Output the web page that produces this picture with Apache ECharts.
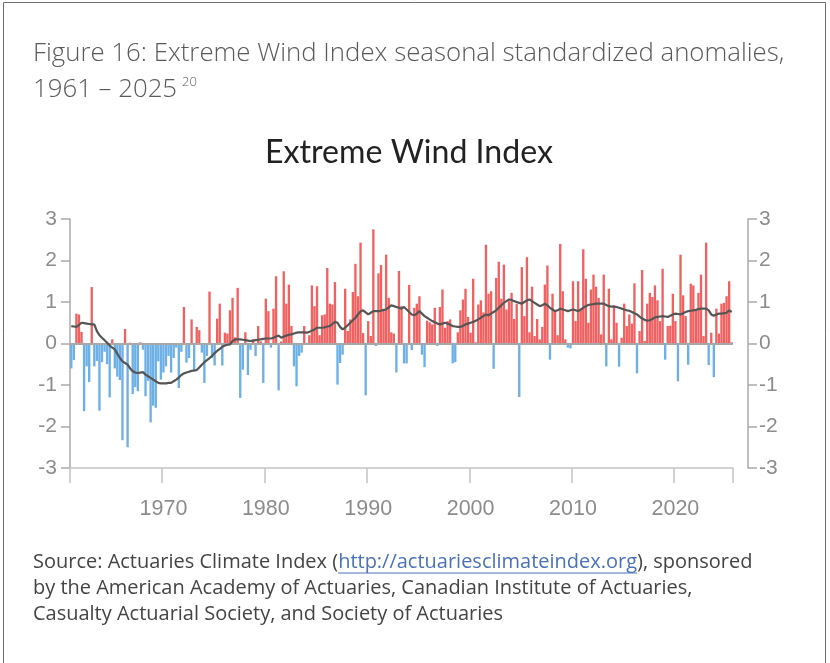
<!DOCTYPE html>
<html><head><meta charset="utf-8">
<script src="https://cdn.jsdelivr.net/npm/echarts@6/dist/echarts.min.js"></script>
<style>html,body{margin:0;padding:0;background:#fff}#c{width:830px;height:663px}</style>
</head><body><div id="c"></div>
<script>
// ---- data (seasonal standardized anomalies, Winter 1961 onward) ----
const startYear = 1961;
const seasonNames = ['Winter', 'Spring', 'Summer', 'Fall'];
const anomalies = [
 -0.6, -0.4, 0.72, 0.7, 0.28, -1.63, -0.55, -0.93, 1.36, -0.55,
 -0.42, -1.62, -0.45, -0.2, -0.5, -1.3, 0.1, -0.6, -0.8, -0.88,
 -2.33, 0.35, -2.5, 0.02, -1.22, -1.05, -1.15, 0.03, -0.15, -1.27,
 -0.9, -1.9, -1.5, -1.55, -0.43, -0.87, -0.7, -0.55, -0.3, -0.7,
 -0.35, -0.1, -1.07, -0.2, 0.88, -0.46, -0.35, 0.58, -0.67, 0.4,
 0.32, -0.22, -0.95, -0.3, 1.25, -0.35, -0.53, 0.6, 0.96, -0.53,
 0.26, 0.24, 0.8, 1.1, 0.15, 1.34, -1.31, -0.63, 0.27, -0.76,
 -0.15, 0.1, -0.3, 0.42, 0.05, -0.95, 1.08, 0.78, -0.1, 0.84,
 1.62, -1.13, 0.05, 1.74, 0.96, 1.42, 0.42, -0.55, -1.03, -0.3,
 -0.22, 0.42, -0.03, 0.2, 1.4, 0.9, 1.38, 0.2, 0.68, 0.7,
 1.82, 0.96, 0.94, 1.48, -0.99, -0.47, -0.27, 1.32, 0.3, 0.58,
 1.24, 1.92, 1.14, 2.43, 0.25, -1.25, 0.54, 0.18, 2.75, -0.06,
 1.69, 1.89, 0.82, 2.14, 1.1, 0.27, 0.24, -0.7, 1.75, 0.9,
 -0.48, -0.48, 1.41, -0.16, 0.86, 0.96, 1.14, -0.27, -0.57, 0.55,
 0.51, 0.46, 0.86, -0.06, 0.88, 1.3, 0.38, 0.54, 0.58, -0.48,
 -0.45, 0.27, 0.8, 1.06, 1.32, 0.64, 0.26, 1.56, 0.03, 0.94,
 1.04, 0.75, 2.38, 1.2, 1.26, -0.61, 1.58, 1.97, 1.08, 1.9,
 0.82, 1.02, 1.22, 0.59, 0.96, -1.29, 1.84, 0.66, 2.08, 0.27,
 1.37, 0.18, 0.59, 0.1, 0.4, 1.42, 1.88, -0.39, 1.2, 0.78,
 0.2, 2.4, 1.26, 0.1, -0.1, -0.12, 1.5, 0.54, 1.5, 0.82,
 2.27, 1.56, 0.5, 1.3, 1.66, 1.37, 1.1, 0.22, 1.66, -0.55,
 1.32, 0.1, 0.92, 0.5, -0.56, 0.14, 0.96, 0.42, 0.7, 0.48,
 1.45, -0.72, 0.3, 1.77, 0.06, 0.96, 1.22, 1.12, 1.4, 1.04,
 0.54, 1.8, -0.39, 0.42, 0.43, 1.2, 0.54, -0.91, 2.14, 1.16,
 0.66, -0.51, 1.44, 1.4, 0.82, 1.22, 1.66, 0.18, 2.43, -0.52,
 0.26, -0.81, 0.84, 0.24, 0.96, 0.98, 1.14, 1.5, 0.03
];
const movingAverage = [
 0.42, 0.41, 0.40, 0.45, 0.50, 0.49, 0.48, 0.47, 0.46, 0.46,
 0.30, 0.20, 0.14, 0.08, 0.02, -0.05, -0.10, -0.14, -0.25, -0.35,
 -0.43, -0.47, -0.51, -0.60, -0.67, -0.70, -0.71, -0.70, -0.69, -0.75,
 -0.79, -0.83, -0.87, -0.91, -0.95, -0.96, -0.96, -0.96, -0.95, -0.95,
 -0.91, -0.87, -0.82, -0.76, -0.72, -0.70, -0.68, -0.66, -0.65, -0.64,
 -0.58, -0.51, -0.45, -0.40, -0.35, -0.30, -0.23, -0.18, -0.13, -0.08,
 -0.05, -0.03, -0.02, 0.06, 0.10, 0.10, 0.10, 0.09, 0.08, 0.07,
 0.06, 0.07, 0.08, 0.09, 0.10, 0.11, 0.12, 0.12, 0.12, 0.14,
 0.17, 0.19, 0.14, 0.17, 0.19, 0.21, 0.22, 0.24, 0.26, 0.27,
 0.27, 0.27, 0.26, 0.28, 0.31, 0.34, 0.38, 0.38, 0.38, 0.39,
 0.41, 0.42, 0.47, 0.52, 0.50, 0.40, 0.34, 0.38, 0.44, 0.50,
 0.56, 0.62, 0.70, 0.77, 0.80, 0.75, 0.70, 0.74, 0.78, 0.78,
 0.78, 0.79, 0.81, 0.82, 0.87, 0.92, 0.90, 0.88, 0.86, 0.84,
 0.88, 0.82, 0.76, 0.70, 0.68, 0.72, 0.78, 0.72, 0.66, 0.62,
 0.58, 0.54, 0.51, 0.48, 0.46, 0.48, 0.50, 0.48, 0.45, 0.42,
 0.41, 0.40, 0.40, 0.43, 0.46, 0.48, 0.50, 0.52, 0.55, 0.58,
 0.62, 0.66, 0.70, 0.68, 0.72, 0.76, 0.80, 0.86, 0.92, 0.98,
 1.02, 1.06, 1.05, 1.02, 1.00, 0.98, 0.96, 1.00, 1.04, 1.06,
 1.02, 0.98, 0.94, 0.90, 0.92, 0.96, 0.92, 0.86, 0.82, 0.78,
 0.80, 0.84, 0.82, 0.80, 0.78, 0.80, 0.82, 0.80, 0.78, 0.82,
 0.86, 0.90, 0.93, 0.94, 0.95, 0.96, 0.96, 0.96, 0.96, 0.93,
 0.90, 0.89, 0.89, 0.88, 0.86, 0.84, 0.82, 0.80, 0.79, 0.76,
 0.73, 0.70, 0.65, 0.60, 0.57, 0.55, 0.56, 0.59, 0.63, 0.64,
 0.65, 0.66, 0.65, 0.64, 0.67, 0.70, 0.72, 0.71, 0.70, 0.73,
 0.76, 0.78, 0.79, 0.80, 0.81, 0.83, 0.84, 0.84, 0.84, 0.80,
 0.70, 0.67, 0.70, 0.72, 0.72, 0.73, 0.74, 0.80, 0.76
];
const xLabelYears = [1970, 1980, 1990, 2000, 2010, 2020];
const yTicks = [-3, -2, -1, 0, 1, 2, 3];

const captionLine1 = 'Figure 16: Extreme Wind Index seasonal standardized anomalies,';
const captionLine2 = '1961 \u2013 2025';
const captionNote = '20';
const chartTitle = 'Extreme Wind Index';
const sourcePre = 'Source: Actuaries Climate Index (';
const sourceLink = 'http://actuariesclimateindex.org';
const sourcePost = '), sponsored';
const sourceLine2 = 'by the American Academy of Actuaries, Canadian Institute of Actuaries,';
const sourceLine3 = 'Casualty Actuarial Society, and Society of Actuaries';

// ---- build ----
const categories = anomalies.map((_, i) => (startYear + Math.floor(i / 4)) + ' ' + seasonNames[i % 4]);
const yearOf = i => startYear + Math.floor(i / 4);
const isDecadeStart = i => i % 4 === 0 && xLabelYears.includes(yearOf(i));

const RED = '#f06262', BLUE = '#6cb0e6';
const ctx = document.createElement('canvas').getContext('2d');
function fitSize(text, weight, family, targetW) {
  ctx.font = weight + ' 100px ' + family;
  return 100 * targetW / ctx.measureText(text).width;
}
function textW(text, weight, size, family) {
  ctx.font = weight + ' ' + size + 'px ' + family;
  return ctx.measureText(text).width;
}
const capFamily = "'Open Sans', 'Noto Sans', sans-serif";
const capSize = Math.min(26, fitSize(captionLine1, 300, capFamily, 752));
const capFont = '300 ' + capSize + 'px ' + capFamily;
const cap2W = textW(captionLine2, 300, capSize, capFamily);

const srcFamily = "'Open Sans', 'Noto Sans', sans-serif";
const srcSize = Math.min(20, fitSize(sourcePre + sourceLink + sourcePost, 400, srcFamily, 720));
const preW = textW(sourcePre, 400, srcSize, srcFamily);
const linkW = textW(sourceLink, 400, srcSize, srcFamily);

const titleFamily = "Lato, 'Open Sans', sans-serif";
const titleSize = Math.min(33, fitSize(chartTitle, 400, titleFamily, 288));

const chart = echarts.init(document.getElementById('c'), null, {renderer: 'canvas'});
const axisGray = '#aaaaaa', labelGray = '#8c8c8c';
const yAxisCommon = {
  type: 'value', min: -3, max: 3, interval: 1,
  axisLine: {show: true, onZero: false, lineStyle: {color: axisGray, width: 1.5}},
  axisTick: {show: true, length: 9, lineStyle: {color: axisGray, width: 1.5}},
  splitLine: {show: false},
  axisLabel: {color: labelGray, fontSize: 21, fontFamily: "'Liberation Sans', Arial, sans-serif",
    formatter: v => yTicks.includes(v) ? String(v) : ''}
};
chart.setOption({
  animation: false,
  backgroundColor: '#ffffff',
  grid: {left: 70, top: 219, width: 663, height: 249, containLabel: false},
  xAxis: {
    type: 'category', data: categories, boundaryGap: true, position: 'bottom',
    axisLine: {show: true, onZero: false, lineStyle: {color: '#c4c4c4', width: 1.5}},
    axisTick: {show: true, length: 15, lineStyle: {color: '#c4c4c4', width: 1.5},
      interval: (i) => i === 0 || isDecadeStart(i)},
    axisLabel: {show: true, interval: (i) => isDecadeStart(i), margin: 30,
      color: labelGray, fontSize: 21.5, fontFamily: "'Liberation Sans', Arial, sans-serif",
      formatter: v => v.split(' ')[0]},
    splitLine: {show: false}
  },
  yAxis: [
    Object.assign({}, yAxisCommon, {position: 'left', axisLabel: Object.assign({}, yAxisCommon.axisLabel, {margin: 13})}),
    Object.assign({}, yAxisCommon, {position: 'right', offset: 15, axisLabel: Object.assign({}, yAxisCommon.axisLabel, {margin: 11})})
  ],
  series: [
    {
      type: 'bar', data: anomalies, barCategoryGap: '8%',
      itemStyle: {color: p => p.value >= 0 ? RED : BLUE},
      markLine: {silent: true, symbol: 'none', label: {show: false},
        lineStyle: {color: '#a8a8a8', width: 2, type: 'solid'}, data: [{yAxis: 0}]},
      z: 2
    },
    {
      type: 'line', data: movingAverage, showSymbol: false, symbol: 'none',
      lineStyle: {color: '#555555', width: 2.2}, itemStyle: {color: '#555555'}, z: 5
    }
  ],
  graphic: [
    {type: 'rect', silent: true, shape: {x: 3.5, y: 2.5, width: 822, height: 700},
      style: {fill: null, stroke: '#6e6e6e', lineWidth: 1}},
    {type: 'text', x: 33, y: 54, style: {text: captionLine1, font: capFont, fill: '#5a5a5a', textVerticalAlign: 'middle'}},
    {type: 'text', x: 33, y: 90, style: {text: captionLine2, font: capFont, fill: '#5a5a5a', textVerticalAlign: 'middle'}},
    {type: 'text', x: 33 + cap2W + 5, y: 82, style: {text: captionNote, font: "300 13px 'Open Sans', 'Noto Sans', sans-serif", fill: '#5a5a5a', textVerticalAlign: 'middle'}},
    {type: 'text', x: 409, y: 153, style: {text: chartTitle, font: titleSize + 'px ' + titleFamily, fill: '#222222', textAlign: 'center', textVerticalAlign: 'middle'}},
    {type: 'text', x: 33, y: 562, style: {
      text: '{a|' + sourcePre + '}{l|' + sourceLink + '}{a|' + sourcePost + '}',
      rich: {a: {fontSize: srcSize, fontFamily: srcFamily, fill: '#444444'},
             l: {fontSize: srcSize, fontFamily: srcFamily, fill: '#4a72b8'}},
      textVerticalAlign: 'middle'}},
    {type: 'line', silent: true, shape: {x1: 33 + preW, y1: 573, x2: 33 + preW + linkW, y2: 573},
      style: {stroke: '#4a72b8', lineWidth: 1}},
    {type: 'text', x: 33, y: 588, style: {text: sourceLine2, font: srcSize + 'px ' + srcFamily, fill: '#444444', textVerticalAlign: 'middle'}},
    {type: 'text', x: 33, y: 614, style: {text: sourceLine3, font: srcSize + 'px ' + srcFamily, fill: '#444444', textVerticalAlign: 'middle'}}
  ]
});
</script>
</body></html>
